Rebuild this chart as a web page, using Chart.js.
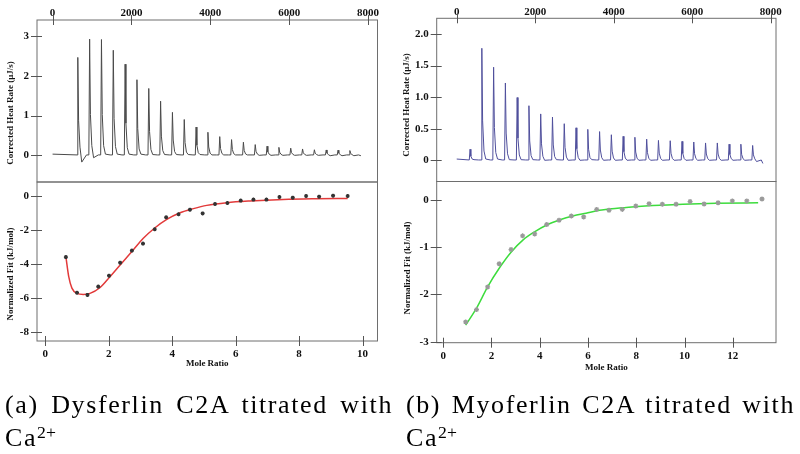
<!DOCTYPE html>
<html>
<head>
<meta charset="utf-8">
<script src="https://cdn.jsdelivr.net/npm/chart.js@4.4.1/dist/chart.umd.min.js"></script>
<style>
  body { margin: 0; background: #fff; }
  #wrap { position: relative; width: 800px; height: 454px; overflow: hidden; }
  canvas { position: absolute; left: 0; top: 0; }
  .cap { position: absolute; font-family: "Liberation Serif", serif; font-size: 26px; line-height: 1; color: #000; letter-spacing: 1.6px; }
  .just { text-align: justify; text-align-last: justify; }
  .cap sup { font-size: 0.68em; line-height: 0; vertical-align: 0.45em; letter-spacing: 0; }
</style>
</head>
<body>
<div id="wrap">
  <canvas id="dysRaw" width="800" height="454"></canvas>
  <canvas id="dysFit" width="800" height="454"></canvas>
  <canvas id="myoRaw" width="800" height="454"></canvas>
  <canvas id="myoFit" width="800" height="454"></canvas>
  <div class="cap just" style="left:5px; top:392px; width:388px;">(a) Dysferlin C2A titrated with</div>
  <div class="cap" style="left:5px; top:425px;">Ca<sup>2+</sup></div>
  <div class="cap just" style="left:406px; top:392px; width:389px;">(b) Myoferlin C2A titrated with</div>
  <div class="cap" style="left:406px; top:425px;">Ca<sup>2+</sup></div>
</div>
<script>
// tick labels
const timeTicks = [0, 2000, 4000, 6000, 8000];
const dysHeatTicks = [0, 1, 2, 3];
const myoHeatTicks = [0, 0.5, 1.0, 1.5, 2.0];
const dysRatioTicks = [0, 2, 4, 6, 8, 10];
const dysFitTicks = [0, -2, -4, -6, -8];
const myoRatioTicks = [0, 2, 4, 6, 8, 10, 12];
const myoFitTicks = [0, -1, -2, -3];

// thermograms: injection time (s), peak heat rate (uJ/s), level just after the spike
const dysInjTimes = [640, 940, 1240, 1540, 1840, 2140, 2440, 2740, 3040, 3340, 3640, 3940,
  4240, 4540, 4840, 5140, 5440, 5740, 6040, 6340, 6640, 6940, 7240, 7540];
const dysPeaks = [2.45, 2.91, 2.90, 2.63, 2.28, 1.89, 1.67, 1.35, 1.07, 0.89, 0.70, 0.57,
  0.46, 0.385, 0.32, 0.26, 0.22, 0.19, 0.17, 0.15, 0.13, 0.125, 0.12, 0.11];
const dysAfter = [-0.17, -0.06, 0.03, 0.03, 0.03, 0.03, 0.02, 0.02, 0.02, 0.02, 0.02, 0.01,
  0.01, 0.01, 0.01, 0.0, 0.0, 0.0, 0.0, 0.0, 0.0, -0.01, -0.01, -0.01];
const dysLevel = 0.01;
const dysStart = { x: 0, y: 0.03 };
const dysEnd = { x: 7820, y: -0.01 };

const myoInjTimes = [340, 640, 940, 1240, 1540, 1840, 2140, 2440, 2740, 3040, 3340, 3640, 3940,
  4240, 4540, 4840, 5140, 5440, 5740, 6040, 6340, 6640, 6940, 7240, 7540];
const myoPeaks = [0.17, 1.77, 1.47, 1.22, 0.99, 0.86, 0.73, 0.68, 0.575, 0.51, 0.485, 0.45, 0.40,
  0.375, 0.36, 0.33, 0.31, 0.305, 0.295, 0.285, 0.27, 0.27, 0.25, 0.25, 0.23];
const myoAfter = [0.01, 0.02, 0.02, 0.01, 0.01, 0.01, 0.0, 0.01, 0.0, 0.0, 0.01, 0.0, 0.0,
  0.0, 0.0, 0.0, 0.0, 0.0, 0.0, 0.0, 0.0, 0.0, 0.0, 0.0, -0.02];
const myoLevel = 0.005;
const myoStart = { x: 0, y: 0.02 };
const myoEnd = { x: 7800, y: -0.05 };

// spike outline: [seconds from injection, fraction of peak]
const spikeShape = [[-20, 0], [0, 1], [20, 0.35], [55, 0.08]];

// integrated heats (mole ratio vs kJ/mol) and the fitted curves
const dysRatio = [0.65, 1.0, 1.33, 1.67, 2.01, 2.36, 2.73, 3.08, 3.45, 3.81, 4.2, 4.56,
  4.96, 5.35, 5.74, 6.16, 6.56, 6.97, 7.38, 7.8, 8.22, 8.63, 9.07, 9.53];
const dysHeat = [-3.58, -5.67, -5.80, -5.31, -4.67, -3.91, -3.20, -2.79, -1.95, -1.25, -1.07, -0.80,
  -1.02, -0.47, -0.41, -0.27, -0.21, -0.21, -0.06, -0.10, 0.0, -0.04, 0.02, 0.0];
const dysFitX = [0.65, 0.74, 0.84, 1.0, 1.2, 1.41, 1.72, 2.04, 2.36, 2.73, 3.09, 3.46, 3.83,
  4.25, 4.67, 5.09, 5.72, 6.45, 7.5, 8.55, 9.53];
const dysFitY = [-3.55, -4.73, -5.4, -5.71, -5.77, -5.71, -5.38, -4.73, -4.04, -3.26, -2.48, -1.86, -1.37,
  -0.98, -0.74, -0.55, -0.39, -0.29, -0.2, -0.16, -0.14];

const myoRatio = [0.93, 1.38, 1.84, 2.32, 2.81, 3.29, 3.79, 4.29, 4.8, 5.31, 5.82, 6.36,
  6.87, 7.42, 7.98, 8.53, 9.08, 9.65, 10.23, 10.81, 11.39, 11.98, 12.58, 13.21];
const myoHeat = [-2.58, -2.32, -1.84, -1.35, -1.05, -0.76, -0.72, -0.52, -0.43, -0.34, -0.36, -0.20,
  -0.22, -0.20, -0.13, -0.08, -0.09, -0.09, -0.035, -0.085, -0.06, -0.02, -0.02, 0.02];
const myoFitX = [0.93, 1.38, 1.84, 2.34, 2.82, 3.3, 3.8, 4.29, 4.84, 5.37, 5.92, 6.48, 7.58,
  8.69, 9.93, 11.31, 13.05];
const myoFitY = [-2.65, -2.29, -1.84, -1.43, -1.1, -0.85, -0.67, -0.53, -0.42, -0.34, -0.28, -0.22, -0.16,
  -0.12, -0.09, -0.07, -0.06];

const W = 800, H = 454;
const serif = 'Liberation Serif';
const tickFont = { family: serif, size: 11, weight: 'bold' };
const titleFont = { family: serif, size: 9, weight: 'bold' };

function buildTrace(start, times, peaks, after, level, end) {
  const pts = [start];
  times.forEach((t, i) => {
    spikeShape.forEach(([dt, f]) => pts.push({ x: t + dt, y: level + f * peaks[i] }));
    pts.push({ x: t + 100, y: after[i] });
    pts.push({ x: t + 220, y: level });
  });
  pts.push(end);
  return pts;
}

function pairs(xs, ys) {
  return xs.map((x, i) => ({ x, y: ys[i] }));
}

// frame round the plot area, ticks that cross it, and the rotated y title
const framePlugin = {
  id: 'frame',
  afterDraw(chart, args, opts) {
    const { ctx, chartArea: a } = chart;
    ctx.save();
    ctx.strokeStyle = '#6e6e6e';
    ctx.lineWidth = 1;
    ctx.strokeRect(a.left, a.top, a.right - a.left, a.bottom - a.top);
    ctx.strokeStyle = '#555';
    Object.values(chart.scales).forEach(s => {
      s.ticks.forEach((t, i) => {
        const p = Math.round(s.getPixelForTick(i)) + 0.5;
        ctx.beginPath();
        if (s.isHorizontal()) {
          const y = s.position === 'top' ? a.top : a.bottom;
          const dir = s.position === 'top' ? 1 : -1;
          ctx.moveTo(p, y - dir * 5);
          ctx.lineTo(p, y + dir * 5);
        } else {
          ctx.moveTo(a.left - 6, p);
          ctx.lineTo(a.left + 5, p);
        }
        ctx.stroke();
      });
    });
    if (opts.yTitle) {
      ctx.translate(opts.yTitle.x, opts.yTitle.y);
      ctx.rotate(-Math.PI / 2);
      ctx.font = 'bold 9px "Liberation Serif"';
      ctx.fillStyle = '#111';
      ctx.textAlign = 'center';
      ctx.textBaseline = 'middle';
      ctx.fillText(opts.yTitle.text, 0, 0);
    }
    ctx.restore();
  }
};

function axis(o) {
  return {
    type: 'linear',
    position: o.position,
    min: o.min,
    max: o.max,
    afterBuildTicks: s => { s.ticks = o.ticks.map(v => ({ value: v })); },
    afterFit: s => { if (o.width) s.width = o.width; if (o.height) s.height = o.height; },
    border: { display: false },
    grid: { drawOnChartArea: false, drawTicks: false },
    ticks: { font: tickFont, color: '#111', padding: o.pad, autoSkip: false, maxRotation: 0,
      callback: o.fmt || (v => String(v)) },
    title: { display: !!o.title, text: o.title, font: titleFont, color: '#111', padding: 0 }
  };
}

// box: plot area; yLeft: where the y axis block starts; xEdge: far edge of the x axis block
function panel(id, box, yLeft, xEdge, xs, ys, yTitle, datasets) {
  const top = xs.position === 'top';
  new Chart(document.getElementById(id), {
    type: 'line',
    data: { datasets },
    options: {
      responsive: false,
      animation: false,
      devicePixelRatio: 1,
      layout: { padding: {
        left: yLeft,
        right: W - box.r,
        top: top ? xEdge : box.t,
        bottom: top ? H - box.b : H - xEdge
      } },
      plugins: { legend: { display: false }, tooltip: { enabled: false }, frame: { yTitle } },
      scales: {
        x: axis(Object.assign({ height: top ? box.t - xEdge : xEdge - box.b }, xs)),
        y: axis(Object.assign({ position: 'left', width: box.l - yLeft, pad: 8 }, ys))
      }
    },
    plugins: [framePlugin]
  });
}

const traceStyle = c => ({ borderColor: c, borderWidth: 1, pointRadius: 0, tension: 0, fill: false });

panel('dysRaw', { l: 37, t: 20, r: 377.5, b: 182 }, 5.5, 0,
  { position: 'top', min: -395, max: 8241, ticks: timeTicks, pad: 0 },
  { min: -0.67, max: 3.40, ticks: dysHeatTicks },
  { text: 'Corrected Heat Rate (\u00b5J/s)', x: 11, y: 113 },
  [Object.assign({ data: buildTrace(dysStart, dysInjTimes, dysPeaks, dysAfter, dysLevel, dysEnd) }, traceStyle('#4a4a4a'))]);

panel('dysFit', { l: 37, t: 182, r: 377.5, b: 341 }, 5.5, 369.5,
  { position: 'bottom', min: -0.26, max: 10.47, ticks: dysRatioTicks, title: 'Mole Ratio', pad: 7 },
  { min: -8.5, max: 0.82, ticks: dysFitTicks },
  { text: 'Normalized Fit (kJ/mol)', x: 11, y: 274 },
  [
    { data: pairs(dysRatio, dysHeat), showLine: false, pointStyle: 'star', pointRadius: 2,
      pointBorderColor: '#333', pointBorderWidth: 1.2, order: 0 },
    { data: pairs(dysFitX, dysFitY), borderColor: '#e23a3a', borderWidth: 1.5, pointRadius: 0,
      cubicInterpolationMode: 'monotone', order: 1 }
  ]);

panel('myoRaw', { l: 436.7, t: 18.3, r: 776, b: 181.5 }, 402, 0,
  { position: 'top', min: -510, max: 8135, ticks: timeTicks, pad: 0 },
  { min: -0.336, max: 2.25, ticks: myoHeatTicks, fmt: v => v === 0 ? '0' : v.toFixed(1) },
  { text: 'Corrected Heat Rate (\u00b5J/s)', x: 407, y: 105 },
  [Object.assign({ data: buildTrace(myoStart, myoInjTimes, myoPeaks, myoAfter, myoLevel, myoEnd) }, traceStyle('#4f4f9c'))]);

panel('myoFit', { l: 436.7, t: 181.5, r: 776, b: 342.7 }, 402, 373,
  { position: 'bottom', min: -0.27, max: 13.79, ticks: myoRatioTicks, title: 'Mole Ratio', pad: 7 },
  { min: -3.02, max: 0.39, ticks: myoFitTicks },
  { text: 'Normalized Fit (kJ/mol)', x: 408, y: 268 },
  [
    { data: pairs(myoRatio, myoHeat), showLine: false, pointStyle: 'star', pointRadius: 2.5,
      pointBorderColor: '#9a9a9a', pointBorderWidth: 1.3, order: 0 },
    { data: pairs(myoFitX, myoFitY), borderColor: '#3ddc3d', borderWidth: 1.5, pointRadius: 0,
      cubicInterpolationMode: 'monotone', order: 1 }
  ]);
</script>
</body>
</html>
